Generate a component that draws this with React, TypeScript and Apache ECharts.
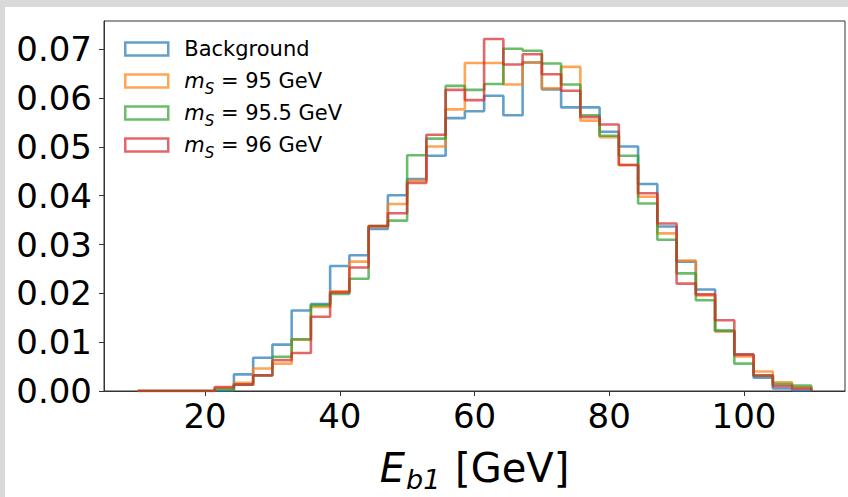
import React, { useEffect, useRef } from "react";
import * as echarts from "echarts";

// Histogram binning: 35 equal bins spanning 10–110 GeV
const BIN_LO = 10;
const BIN_HI = 110;
const N_BINS = 35;

// Normalised bin contents (one value per bin)
const background = [
  0, 0, 0, 0, 0.0001, 0.0034, 0.0068, 0.0095, 0.0165, 0.0178,
  0.0256, 0.0278, 0.0332, 0.0401, 0.0434, 0.0482, 0.0559, 0.0573, 0.0605, 0.0565,
  0.0673, 0.0618, 0.0581, 0.0581, 0.0531, 0.0501, 0.0424, 0.0337, 0.0265, 0.0208,
  0.0123, 0.0074, 0.0027, 0.0005, 0.0001,
];
const ms95 = [
  0, 0, 0, 0, 0.0006, 0.0017, 0.0046, 0.0056, 0.0105, 0.0172,
  0.0204, 0.0265, 0.0336, 0.0383, 0.0431, 0.0501, 0.0577, 0.0672, 0.0672, 0.0628,
  0.0673, 0.062, 0.0664, 0.0554, 0.052, 0.0463, 0.0398, 0.0323, 0.0267, 0.0196,
  0.0122, 0.0071, 0.004, 0.0018, 0.0007,
];
const ms955 = [
  0, 0, 0, 0, 0.0003, 0.0013, 0.0032, 0.007, 0.0106, 0.0176,
  0.0199, 0.023, 0.0338, 0.0349, 0.0483, 0.0517, 0.0625, 0.0617, 0.0629, 0.0701,
  0.0697, 0.0671, 0.0628, 0.0565, 0.0523, 0.0482, 0.0384, 0.031, 0.0241, 0.0186,
  0.0124, 0.0056, 0.0031, 0.0014, 0.0011,
];
const ms96 = [
  0, 0, 0, 0, 0.0008, 0.0013, 0.0032, 0.0063, 0.0078, 0.0152,
  0.0202, 0.0253, 0.0338, 0.0364, 0.0426, 0.0525, 0.0617, 0.0596, 0.0721, 0.0669,
  0.069, 0.0649, 0.0615, 0.0561, 0.0546, 0.0463, 0.0405, 0.0343, 0.022, 0.0198,
  0.0145, 0.0075, 0.0032, 0.001, 0.0005,
];

const SERIES_NAMES = ["Background", "m_S = 95 GeV", "m_S = 95.5 GeV", "m_S = 96 GeV"];
const SERIES_DATA = [background, ms95, ms955, ms96];
const COLORS = [
  "rgba(31,119,180,0.7)",
  "rgba(255,127,14,0.7)",
  "rgba(44,160,44,0.7)",
  "rgba(214,39,40,0.7)",
];

const X_TICKS = [20, 40, 60, 80, 100];
const Y_TICKS = [0, 0.01, 0.02, 0.03, 0.04, 0.05, 0.06, 0.07];

const FONT = "DejaVu Sans";

const edges = Array.from(
  { length: N_BINS + 1 },
  (_, i) => BIN_LO + (i * (BIN_HI - BIN_LO)) / N_BINS
);

// Outline of a step histogram: up each left edge, across the bin, down at the end
function stepOutline(counts: number[]): number[][] {
  const pts: number[][] = [[edges[0], 0]];
  counts.forEach((v, i) => {
    pts.push([edges[i], v]);
    pts.push([edges[i + 1], v]);
  });
  pts.push([edges[N_BINS], 0]);
  return pts;
}

function legendLabel(name: string): string {
  if (name.startsWith("m_S")) {
    return "{m|m}{s|S}{t|" + name.slice(3) + "}";
  }
  return name;
}

export default function App() {
  const ref = useRef<HTMLDivElement>(null);

  useEffect(() => {
    if (!ref.current) return;
    const chart = echarts.init(ref.current, undefined, { renderer: "svg" });
    const axisColor = "#333";

    chart.setOption({
      animation: false,
      backgroundColor: "#ffffff",
      grid: {
        left: 99,
        top: 14,
        width: 741,
        height: 370,
        containLabel: false,
        outerBoundsMode: "none",
        show: true,
        borderColor: axisColor,
        borderWidth: 1,
        backgroundColor: "transparent",
      },
      xAxis: {
        type: "value",
        min: 5,
        max: 115,
        axisLine: { show: true, lineStyle: { color: axisColor, width: 1 } },
        axisTick: {
          show: true,
          length: 5,
          customValues: X_TICKS,
          lineStyle: { color: axisColor, width: 1 },
        },
        axisLabel: {
          customValues: X_TICKS,
          fontSize: 34,
          fontFamily: FONT,
          color: "#000",
          margin: 8,
        },
        splitLine: { show: false },
        name: "{e|E}{sub|b1}{t| [GeV]}",
        nameLocation: "middle",
        nameGap: 58,
        nameTextStyle: {
          fontFamily: FONT,
          fontSize: 40,
          color: "#000",
          rich: {
            e: { fontFamily: FONT, fontStyle: "italic", fontSize: 40, lineHeight: 38, color: "#000" },
            sub: {
              fontFamily: FONT,
              fontStyle: "italic",
              fontSize: 27,
              lineHeight: 10,
              padding: [23, 2, 0, 1],
              color: "#000",
            },
            t: { fontFamily: FONT, fontSize: 40, lineHeight: 38, color: "#000" },
          },
        },
      },
      yAxis: {
        type: "value",
        min: 0,
        max: 0.0758,
        axisLine: { show: true, lineStyle: { color: axisColor, width: 1 } },
        axisTick: {
          show: true,
          length: 5,
          customValues: Y_TICKS,
          lineStyle: { color: axisColor, width: 1 },
        },
        axisLabel: {
          customValues: Y_TICKS,
          fontSize: 34,
          fontFamily: FONT,
          color: "#000",
          margin: 12,
          formatter: (v: number) => v.toFixed(2),
        },
        splitLine: { show: false },
      },
      legend: {
        orient: "vertical",
        left: 119,
        top: 26,
        padding: 0,
        itemGap: 0,
        itemWidth: 43,
        itemHeight: 13,
        icon: "rect",
        selectedMode: false,
        data: SERIES_NAMES.map((n, i) => ({
          name: n,
          itemStyle: {
            color: "rgba(255,255,255,0)",
            borderColor: COLORS[i],
            borderWidth: 2.5,
          },
        })),
        formatter: legendLabel,
        textStyle: {
          fontFamily: FONT,
          fontSize: 21,
          color: "#000",
          lineHeight: 32,
          padding: [0, 0, 0, 11],
          rich: {
            m: { fontFamily: FONT, fontStyle: "italic", fontSize: 21, color: "#000" },
            s: {
              fontFamily: FONT,
              fontStyle: "italic",
              fontSize: 15,
              lineHeight: 15,
              padding: [16, 0, 0, 0],
              color: "#000",
            },
            t: { fontFamily: FONT, fontSize: 21, color: "#000" },
          },
        },
      },
      series: SERIES_NAMES.map((n, i) => ({
        name: n,
        type: "line",
        data: stepOutline(SERIES_DATA[i]),
        showSymbol: false,
        symbol: "none",
        silent: true,
        z: 2 + i,
        lineStyle: { color: COLORS[i], width: 2.6 },
        itemStyle: { color: COLORS[i] },
      })),
    });

    return () => chart.dispose();
  }, []);

  return (
    <div
      style={{
        position: "fixed",
        left: 0,
        top: 0,
        width: 848,
        height: 497,
        background: "#d9d9d9",
        overflow: "hidden",
      }}
    >
      <div
        ref={ref}
        style={{
          position: "absolute",
          left: 5,
          top: 7,
          width: 843,
          height: 490,
          background: "#ffffff",
        }}
      />
    </div>
  );
}
